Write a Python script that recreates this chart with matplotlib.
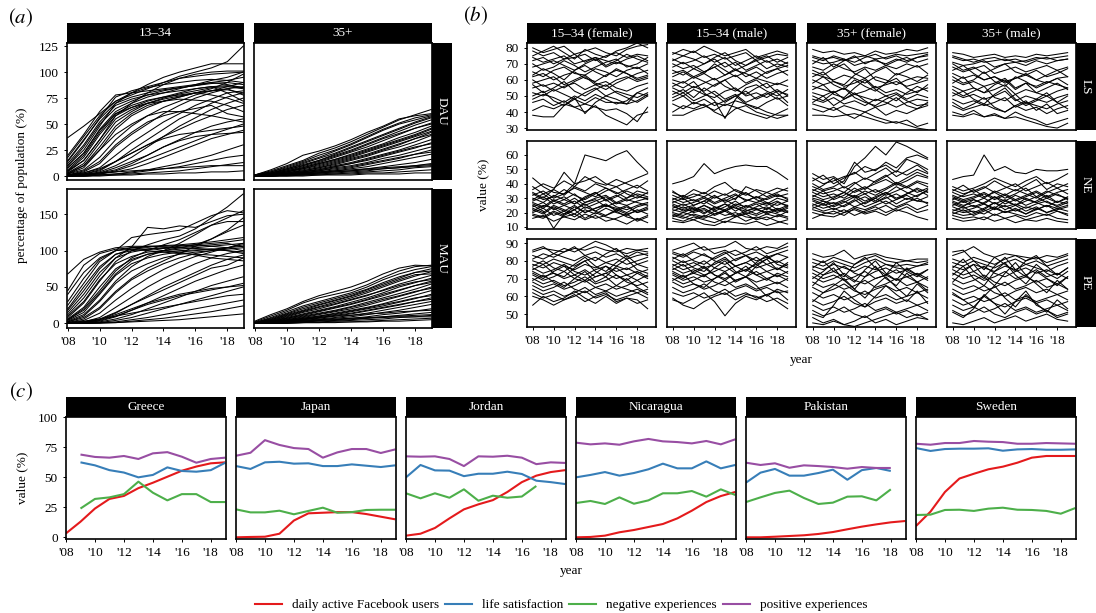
import matplotlib
matplotlib.use("Agg")
import matplotlib.pyplot as plt
import numpy as np
from matplotlib.patches import Rectangle
from matplotlib.lines import Line2D

plt.rcParams['font.family'] = ['Liberation Serif', 'DejaVu Serif']
plt.rcParams['mathtext.fontset'] = 'stix'

years = np.arange(2008, 2020)
tick_years = np.arange(2008, 2019, 2)
tick_labels = ["'%02d" % (y % 100) for y in tick_years]

# ---- (a) Facebook users as percentage of population, one line per country ----
dau_1334 = [
    "37 48 60 72 80 85 88 90 92 93 92 90", "20 40 62 78 80 82 84 86 88 90 88 85",
    "15 35 55 70 76 80 83 85 87 90 92 95", "10 28 50 65 72 78 82 85 87 89 90 88",
    "8 22 45 62 70 76 80 84 88 92 95 100", "5 18 40 58 66 72 76 80 84 86 87 85",
    "3 12 32 52 62 70 75 79 82 85 86 84", "2 8 25 45 58 66 72 76 80 82 83 80",
    "12 30 52 68 74 78 80 82 84 86 80 72", "6 20 42 60 68 73 76 78 80 78 75 70",
    "4 15 35 55 64 70 74 77 80 82 84 78", "2 6 18 35 48 58 66 72 78 82 86 90",
    "1 4 12 28 40 50 60 68 75 80 84 86", "1 3 8 20 32 42 52 60 68 74 80 82",
    "0 2 5 14 25 35 45 55 62 70 76 80", "0 1 4 10 18 28 38 48 56 64 70 75",
    "1 3 7 14 22 30 38 45 52 58 64 68", "0 1 3 8 14 20 28 35 42 48 52 55",
    "0 1 2 5 10 16 22 28 34 40 45 50", "0 1 2 4 7 12 18 24 30 36 40 44",
    "0 0 1 2 4 6 9 12 16 20 25 30", "0 0 1 2 3 5 7 9 12 15 18 20",
    "0 0 1 1 2 3 4 5 7 9 11 13", "0 0 0 1 1 2 2 3 3 4 4 5",
    "1 2 3 4 5 6 7 8 9 10 10 10", "18 38 58 72 78 84 90 96 100 104 110 125",
    "10 25 48 70 80 88 95 100 104 108 108 108", "5 15 35 58 70 80 88 94 98 100 101 101",
    "2 10 28 48 60 68 72 76 80 84 90 98", "8 22 44 60 66 70 72 74 73 72 68 62",
    "3 10 25 40 50 58 62 62 60 58 55 52", "0 2 6 14 22 30 36 40 42 44 46 48",
    "1 5 14 30 42 52 58 62 65 68 60 57", "14 34 56 76 82 86 90 94 96 98 99 100",
    "0 1 3 6 12 20 28 34 38 40 41 42",
]
dau_35 = [
    "1 5 10 15 22 27 33 40 47 54 59 64", "1 4 9 14 20 25 31 38 45 51 56 59",
    "0 3 7 12 17 22 28 34 40 46 52 57", "1 3 7 11 15 20 25 31 37 43 49 54",
    "0 2 5 9 13 18 23 28 34 40 46 51", "0 2 5 8 12 16 21 26 31 37 42 48",
    "0 2 4 7 11 15 19 24 29 34 39 45", "0 1 3 6 9 13 17 21 26 31 36 42",
    "0 1 3 5 8 11 15 19 24 28 33 39", "0 1 2 4 7 10 13 17 21 25 30 35",
    "0 1 2 4 6 9 12 15 19 23 27 32", "0 1 2 3 5 8 10 13 17 20 24 28",
    "0 1 2 3 4 6 8 11 14 17 21 25", "0 0 1 2 3 5 7 9 12 15 18 21",
    "0 0 1 2 3 4 5 7 9 11 13 16", "0 0 1 1 2 3 4 5 7 8 10 12",
    "0 0 1 1 2 2 3 4 5 6 8 9", "0 0 0 1 1 2 2 3 3 4 5 6",
    "0 0 0 0 1 1 1 2 2 2 3 3", "1 4 8 13 18 24 30 37 44 50 54 58",
    "1 3 6 10 14 19 24 30 36 41 46 50", "0 2 4 7 10 14 18 23 28 33 38 43",
    "0 1 3 5 8 12 16 20 25 30 36 40", "0 1 2 4 6 9 12 16 20 24 28 31",
    "0 1 2 3 5 7 9 12 15 18 21 23", "0 1 1 2 3 4 5 6 7 8 9 10",
    "0 1 2 3 4 5 6 7 8 9 10 11", "1 6 12 20 24 29 35 42 48 55 58 60",
    "0 2 6 10 15 21 27 33 39 45 51 56", "0 1 4 8 12 16 20 25 30 35 40 46",
]
mau_1334 = [
    "68 88 98 104 106 106 105 104 103 102 100 98", "45 80 96 102 104 105 106 107 108 106 104 100",
    "30 62 88 100 104 106 107 108 110 112 115 118", "20 50 78 95 100 102 103 104 106 108 110 105",
    "15 40 70 90 98 102 104 106 108 110 112 115", "10 30 60 82 92 98 100 102 104 106 108 110",
    "6 22 50 75 88 95 98 100 101 102 100 96", "4 15 40 66 82 90 95 98 100 102 104 106",
    "2 10 30 55 72 82 90 95 98 100 102 104", "1 6 20 42 60 72 82 90 96 100 104 108",
    "1 4 14 32 48 62 74 84 92 98 104 110", "0 2 8 22 36 50 62 72 82 90 96 100",
    "0 1 5 14 26 38 50 60 70 80 88 94", "0 1 3 9 18 28 38 48 58 66 74 80",
    "0 1 2 6 12 20 28 36 44 52 58 64", "0 0 1 4 8 14 20 26 32 38 44 50",
    "0 0 1 2 5 8 12 16 20 24 28 32", "0 0 1 1 3 5 7 10 13 16 20 24",
    "0 0 0 1 2 3 4 5 7 9 11 13", "12 35 65 90 105 132 130 134 132 140 148 150",
    "25 55 85 100 118 122 125 128 138 148 155 152", "8 28 58 85 100 108 115 120 130 145 160 178",
    "5 20 45 72 90 100 108 115 125 135 145 155", "3 12 32 58 78 92 100 110 122 135 140 140",
    "2 8 22 44 62 76 86 96 106 116 126 135", "0 2 6 15 26 36 46 56 66 76 80 90",
    "0 1 4 10 18 26 32 38 42 46 50 55", "1 3 6 10 14 18 22 26 30 34 38 40",
    "40 70 90 100 102 100 98 96 95 94 92 90", "18 45 75 95 102 104 100 98 94 90 88 86",
    "5 18 42 68 86 95 100 104 108 116 128 145", "0 2 5 12 20 28 34 40 44 48 50 52",
]
mau_35 = [
    "2 10 18 28 35 40 45 53 63 72 78 80", "1 8 16 24 30 36 42 50 60 68 74 78",
    "1 6 13 20 26 32 38 46 54 62 70 75", "1 5 11 17 23 29 35 42 50 58 65 71",
    "0 4 9 15 20 26 32 38 46 54 60 66", "0 3 8 13 18 23 29 35 42 50 56 62",
    "0 3 7 11 16 21 26 32 38 45 52 58", "0 2 6 10 14 18 23 29 35 41 47 54",
    "0 2 5 8 12 16 20 25 31 37 43 50", "0 2 4 7 10 14 18 22 27 33 39 45",
    "0 1 3 6 9 12 16 20 24 29 34 40", "0 1 3 5 7 10 13 17 21 25 30 35",
    "0 1 2 4 6 8 11 14 18 22 26 30", "0 1 2 3 5 7 9 12 15 18 22 26",
    "0 1 1 2 4 5 7 9 12 14 17 20", "0 0 1 2 3 4 5 7 9 11 13 15",
    "0 0 1 1 2 3 4 5 6 8 9 11", "0 0 0 1 1 2 2 3 4 5 6 7",
    "0 0 0 1 1 1 2 2 3 3 4 5", "3 12 20 30 38 44 50 58 68 76 80 79",
    "1 7 14 22 28 34 40 47 56 64 70 72", "1 5 12 18 25 31 37 44 52 60 67 68",
    "0 4 10 16 22 27 33 39 45 52 57 60", "0 3 7 12 17 22 27 33 40 46 52 56",
    "0 2 5 9 13 17 22 27 33 38 44 48", "0 1 4 7 10 13 17 21 26 30 35 38",
    "0 1 3 5 8 11 14 18 22 26 30 33", "1 2 4 6 8 10 11 13 14 16 17 18",
    "1 2 3 4 5 6 7 8 9 10 11 12", "0 1 2 3 4 5 6 7 8 9 9 9",
]

# ---- (b) well-being measures by age/sex group, one line per country ----
ls_f1534 = [
    "78 75 77 73 74 76 72 75 77 74 76 75", "72 74 70 73 76 71 74 72 70 73 75 72",
    "68 70 72 69 66 70 73 68 71 69 67 70", "65 62 66 68 64 63 67 65 62 66 68 64",
    "62 64 60 63 65 61 59 63 66 64 61 63", "58 60 62 57 60 63 58 56 60 62 59 61",
    "55 57 53 56 58 54 57 59 55 53 56 58", "52 50 54 51 48 52 55 50 53 51 49 52",
    "48 51 49 46 50 47 51 48 45 47 52 50", "75 78 81 77 73 79 76 74 78 80 83 80",
    "70 66 68 72 69 65 68 71 73 68 70 74", "60 56 58 55 59 62 57 54 58 61 64 66",
    "50 53 47 44 49 39 46 50 48 45 52 55", "41 44 42 45 43 40 44 38 35 32 38 40",
    "38 37 37 44 48 45 43 41 42 39 34 43", "80 77 79 81 76 78 80 77 75 79 81 82",
    "63 67 64 60 66 69 65 62 67 64 60 62", "57 52 55 59 53 50 54 57 52 49 46 50",
    "46 48 44 47 43 45 49 46 46 45 47 51", "74 71 73 75 70 72 74 69 72 76 73 71",
]
ls_m1534 = [
    "77 75 78 74 76 73 75 77 72 74 76 75", "73 70 72 75 71 74 69 72 75 71 73 70",
    "68 71 67 70 73 68 71 66 69 72 68 71", "64 66 62 65 68 63 66 64 61 65 67 63",
    "60 58 62 59 56 60 63 58 61 59 57 60", "56 59 55 58 61 56 53 57 60 55 58 56",
    "53 50 54 51 49 53 55 50 52 49 53 51", "49 52 47 50 53 48 51 46 49 52 48 50",
    "45 42 46 44 41 45 43 40 38 36 39 42", "40 44 42 45 40 37 42 44 40 38 36 38",
    "38 38 41 43 46 44 47 45 43 40 38 38", "76 79 77 81 78 75 77 79 74 76 78 76",
    "70 67 69 65 68 71 66 69 72 67 70 68", "62 65 61 64 60 63 67 62 65 61 64 66",
    "58 55 59 52 47 36 48 55 57 53 50 54", "55 52 56 53 57 60 54 51 55 58 52 46",
    "47 50 45 48 44 47 50 45 42 46 49 44", "66 63 67 64 70 66 62 65 68 64 67 69",
    "72 75 73 70 74 77 72 69 73 75 71 74", "51 54 49 55 51 46 50 53 48 51 54 50",
]
ls_f35 = [
    "79 77 78 76 77 75 78 76 77 79 78 80", "75 73 74 72 74 75 73 74 76 75 76 77",
    "72 70 71 73 69 71 72 70 73 71 74 75", "68 66 70 67 65 68 66 69 67 70 68 70",
    "64 62 60 63 61 58 62 60 57 60 62 61", "60 57 59 56 58 61 55 57 59 56 58 60",
    "56 54 52 55 51 53 56 52 54 51 53 55", "52 50 53 48 51 49 47 50 52 48 51 49",
    "48 46 49 45 47 44 48 46 43 46 48 47", "45 43 41 44 42 40 43 38 41 39 42 44",
    "42 40 43 39 36 40 37 35 33 35 31 33", "38 38 37 38 39 37 35 33 34 32 30 29",
    "70 74 68 72 75 70 73 69 72 74 71 73", "66 63 67 70 64 61 65 68 63 66 69 64",
    "58 62 57 54 60 56 53 58 61 55 52 57", "54 57 51 49 55 60 54 50 47 52 56 53",
    "50 47 52 55 49 46 44 48 51 47 44 45", "62 65 59 57 63 67 60 58 64 62 59 63",
    "46 50 44 48 52 47 43 45 49 44 42 46", "74 72 75 73 71 74 76 73 75 72 74 76",
]
ls_m35 = [
    "77 76 74 75 76 74 75 74 76 75 76 77", "74 72 73 71 72 73 71 72 74 73 74 75",
    "71 69 70 72 68 70 71 69 72 70 72 73", "68 65 67 69 64 66 68 65 67 69 66 68",
    "64 61 63 60 62 59 61 63 60 58 61 62", "60 57 59 56 58 61 55 58 56 59 57 55",
    "56 53 55 52 54 57 51 54 52 50 53 55", "52 49 51 48 50 53 47 50 48 46 49 51",
    "48 45 47 44 46 49 43 46 44 42 45 47", "44 41 43 45 42 40 44 41 43 39 42 44",
    "40 38 41 37 39 36 40 37 35 32 34 36", "38 37 39 37 38 36 37 35 33 31 30 33",
    "70 66 68 64 67 70 65 63 66 62 64 67", "58 62 55 52 57 60 54 58 52 55 58 54",
    "54 50 53 56 49 47 51 45 48 52 46 50", "62 58 60 65 59 56 62 59 55 58 61 57",
    "50 53 48 45 51 55 48 44 47 50 46 42", "46 42 45 49 43 40 44 47 41 45 39 41",
    "66 69 64 60 62 58 61 64 60 63 66 62", "75 73 71 73 74 72 73 71 73 74 72 73",
]
ne_f1534 = [
    "44 38 34 33 40 60 58 56 60 63 55 48", "38 33 36 48 40 42 45 40 38 41 44 47",
    "34 30 36 32 38 35 40 37 33 36 39 35", "32 35 30 33 37 34 31 35 38 33 30 34",
    "30 27 32 29 26 31 34 28 31 35 32 29", "28 31 26 29 33 27 30 32 27 30 33 31",
    "26 23 28 25 22 27 29 24 27 25 28 30", "24 27 22 25 28 23 26 29 24 22 25 27",
    "22 19 24 21 25 20 23 26 21 24 20 23", "20 23 18 21 17 22 19 23 20 18 22 19",
    "18 16 20 17 15 19 16 18 21 17 15 18", "16 18 14 17 19 15 18 14 16 19 14 17",
    "36 40 37 42 38 45 41 39 43 40 37 42", "25 21 9 19 24 20 23 25 22 19 21 24",
    "29 33 28 31 26 30 34 29 32 28 31 30", "21 25 23 19 22 26 21 18 22 25 20 22",
    "27 24 29 26 30 25 28 31 26 29 27 25", "19 17 21 18 22 16 20 17 15 12 16 13",
    "33 29 31 36 32 29 33 37 34 30 35 33", "23 20 25 22 19 24 21 25 23 20 24 26",
]
ne_m1534 = [
    "40 42 45 54 47 50 52 53 52 52 48 43", "35 30 33 31 35 32 36 33 30 34 31 33",
    "32 29 31 34 30 33 29 38 35 31 34 37", "30 27 29 26 31 28 32 29 27 30 33 29",
    "28 25 27 30 26 29 25 28 31 27 25 28", "26 23 25 28 24 22 26 24 27 25 28 24",
    "24 22 21 25 22 26 23 21 24 27 22 25", "22 20 23 19 24 21 25 22 19 23 21 24",
    "20 18 21 23 19 22 18 21 23 19 22 20", "18 16 19 17 21 18 20 17 16 19 17 21",
    "16 14 17 15 13 16 18 14 17 15 18 16", "14 13 15 12 11 14 13 12 14 11 13 15",
    "34 31 36 33 38 41 35 32 36 34 37 35", "29 32 28 31 27 30 33 28 31 29 32 30",
    "25 21 24 20 23 26 21 25 22 24 20 23", "21 24 20 22 18 21 24 19 22 20 23 21",
    "27 30 25 28 32 27 30 34 29 26 30 28", "19 17 15 18 16 13 17 19 15 17 14 12",
    "23 26 22 25 21 24 28 23 26 22 27 25", "17 20 18 16 19 21 17 20 18 21 19 17",
]
ne_f35 = [
    "47 43 45 40 52 58 66 60 69 66 62 58", "40 36 38 42 55 48 50 53 48 57 54 50",
    "38 35 37 34 40 44 41 45 49 46 50 47", "36 33 35 38 34 37 40 43 39 42 46 44",
    "34 31 33 30 35 38 34 37 41 38 42 40", "32 29 31 34 30 33 36 32 35 38 34 37",
    "30 28 26 29 32 28 31 34 30 33 36 32", "28 25 27 24 28 31 27 30 33 29 32 35",
    "26 23 25 28 24 27 30 26 29 32 28 31", "24 21 23 20 24 22 25 28 24 27 30 26",
    "22 20 19 22 18 21 24 20 23 26 22 25", "20 18 17 20 22 19 21 18 22 20 17 15",
    "42 46 40 44 48 43 47 51 45 49 53 48", "35 39 44 37 41 36 42 46 40 44 48 45",
    "29 26 30 34 31 35 32 36 40 37 41 38", "25 28 24 27 31 26 30 34 29 33 37 34",
    "31 35 29 32 37 33 28 33 38 34 31 36", "23 26 22 25 29 24 27 31 26 30 28 27",
    "16 19 21 18 23 20 22 25 21 24 20 22", "44 40 42 45 47 52 49 55 51 58 60 57",
]
ne_m35 = [
    "43 45 46 60 49 52 48 47 50 49 49 50", "38 35 37 40 44 41 38 42 45 40 43 47",
    "36 33 35 38 34 37 40 35 38 41 37 40", "34 31 33 30 35 32 36 33 30 34 37 33",
    "32 29 31 34 30 33 29 32 35 31 34 36", "30 27 29 26 31 28 32 29 27 30 33 29",
    "28 25 27 30 26 29 25 28 31 27 25 28", "26 23 25 22 27 24 26 23 26 28 24 27",
    "24 21 23 26 22 25 21 24 22 25 23 21", "22 20 21 19 23 20 22 19 23 20 22 24",
    "20 18 19 22 18 21 19 17 20 18 21 19", "18 16 17 15 19 16 18 15 17 19 16 15",
    "16 14 15 17 14 16 13 15 14 16 14 13", "35 39 34 37 42 38 35 39 43 36 40 38",
    "29 32 36 31 34 30 33 37 31 35 32 30", "25 28 24 27 31 26 29 25 28 32 27 30",
    "21 24 20 23 27 22 25 21 24 20 23 25", "27 24 29 26 23 28 25 30 27 24 28 26",
    "19 22 18 21 24 20 23 19 22 25 21 18", "31 28 30 33 29 32 28 31 34 30 27 31",
]
pe_f1534 = [
    "85 87 86 85 87 86 88 86 85 87 86 85", "83 81 84 82 80 83 85 82 84 81 83 84",
    "80 78 81 79 77 80 82 79 81 78 80 82", "78 76 79 77 75 78 76 79 77 75 78 80",
    "76 73 75 78 74 72 75 77 74 76 73 75", "74 71 73 70 72 75 71 73 76 72 74 71",
    "72 69 71 74 70 68 71 73 70 72 69 72", "70 67 69 66 68 71 67 69 72 68 66 68",
    "68 65 67 64 66 69 65 67 64 66 69 65", "66 63 65 68 64 62 65 63 66 64 62 64",
    "64 61 63 60 62 65 61 63 60 62 64 61", "62 59 61 58 60 63 59 61 58 60 62 59",
    "60 58 55 58 61 57 60 62 57 59 56 58", "55 60 57 59 63 59 56 60 56 59 58 53",
    "86 88 84 87 85 88 91 89 86 84 86 87", "81 84 82 85 88 83 80 84 87 82 85 83",
    "77 80 76 74 78 82 77 74 79 83 78 76", "73 70 74 77 72 69 73 77 72 69 73 70",
    "69 72 68 65 70 74 68 71 66 70 65 62", "75 78 73 71 76 80 74 71 77 81 75 73",
]
pe_m1534 = [
    "86 88 90 86 87 88 91 87 86 88 87 90", "84 82 85 83 81 84 86 83 85 82 84 86",
    "82 79 81 84 80 78 81 83 80 82 79 82", "80 77 79 76 78 81 77 79 82 78 80 77",
    "78 75 77 80 76 74 77 79 76 78 75 78", "76 73 75 72 74 77 73 75 78 74 76 73",
    "74 71 73 76 72 70 73 75 72 74 71 74", "72 69 71 68 70 73 69 71 74 70 72 69",
    "70 67 69 72 68 66 69 71 68 70 67 70", "68 65 67 64 66 69 65 67 64 66 68 65",
    "65 62 64 67 63 61 64 66 63 65 62 63", "62 60 62 59 61 64 60 62 59 61 63 58",
    "58 56 59 62 57 49 56 60 58 61 57 53", "59 55 53 57 60 62 58 61 60 57 59 56",
    "85 83 86 88 84 86 83 85 88 84 86 88", "81 84 80 78 82 85 80 83 78 81 84 82",
    "77 80 76 74 79 82 77 74 79 83 78 76", "73 70 74 77 72 69 73 77 72 69 73 71",
    "69 72 67 65 70 74 68 71 66 60 64 62", "75 78 73 71 76 80 74 71 77 81 75 79",
]
pe_f35 = [
    "84 82 83 86 81 83 84 82 81 80 81 81", "81 79 82 80 78 81 83 80 79 80 79 80",
    "79 77 80 78 76 79 81 78 77 78 77 79", "77 75 78 76 74 77 75 78 76 75 77 78",
    "75 72 74 77 73 71 74 76 73 75 72 75", "73 70 72 69 71 74 70 72 75 71 73 70",
    "71 68 70 73 69 67 70 72 69 71 68 71", "68 65 67 64 66 69 65 67 70 66 68 65",
    "65 62 64 67 63 61 64 66 63 65 62 64", "62 59 61 58 60 63 59 61 58 60 62 59",
    "58 55 57 60 56 54 57 59 56 58 55 57", "55 52 54 51 53 56 52 54 51 53 55 52",
    "52 49 51 54 50 48 51 53 50 52 49 51", "48 45 47 44 46 49 45 47 44 46 48 47",
    "45 44 46 44 43 45 47 49 51 48 50 47", "50 48 55 63 58 54 60 66 61 57 63 56",
    "57 62 66 70 64 59 66 71 65 60 67 62", "66 72 76 69 64 71 77 70 66 73 68 63",
    "76 80 74 71 78 82 76 72 79 74 71 75", "70 74 79 72 68 75 80 73 69 76 72 69",
]
pe_m35 = [
    "83 85 88 84 82 84 83 82 81 83 82 84", "81 79 82 80 78 81 83 80 82 79 81 83",
    "79 77 80 78 76 79 81 78 80 77 79 81", "77 75 78 76 74 77 75 78 76 74 77 79",
    "75 72 74 77 73 71 74 76 73 75 72 76", "73 70 72 69 71 74 70 72 75 71 73 70",
    "70 67 69 72 68 66 69 71 68 70 67 71", "67 64 66 63 65 68 64 66 69 65 67 64",
    "64 61 63 66 62 60 63 65 62 64 61 63", "61 58 60 57 59 62 58 60 57 59 61 58",
    "58 55 57 60 56 54 57 59 56 58 55 57", "55 52 54 51 53 56 52 54 51 53 55 52",
    "52 49 51 54 50 48 51 53 50 52 49 51", "45 44 46 48 45 47 49 46 48 50 47 46",
    "51 48 53 61 56 50 57 63 55 52 48 50", "62 58 54 60 66 59 54 61 56 51 58 53",
    "85 86 80 75 82 78 74 80 83 77 72 76", "68 74 78 71 66 73 79 72 67 62 69 64",
    "76 81 74 70 77 82 75 71 78 73 70 74", "72 77 70 66 74 79 72 67 74 70 66 71",
]

# ---- (c) six example countries ----
countries = ['Greece', 'Japan', 'Jordan', 'Nicaragua', 'Pakistan', 'Sweden']
n = np.nan
fb_users = [
    [3.3, 13, 24, 32, 34.5, 41, 45.5, 50.5, 55.5, 59, 61.7, 62.5],
    [0, 0.3, 0.5, 3, 14, 20, 20.5, 21, 21, 19.4, 17.2, 15],
    [1.4, 3, 7.8, 15.8, 23.3, 27.5, 31, 37.8, 46, 51.4, 54.4, 56],
    [0, 0.3, 1.4, 4.2, 6.1, 8.6, 11.1, 15.8, 22.2, 29.4, 34.4, 37.8],
    [0, 0, 0.5, 1.1, 1.7, 2.8, 4.4, 6.7, 8.9, 10.8, 12.5, 13.6],
    [9.4, 21.4, 37.8, 49, 53, 56.7, 58.9, 62.2, 66.4, 67.8, 67.8, 67.8],
]
life_sat = [
    [n, 62.5, 60, 56, 54, 50, 52, 58.3, 55.3, 54.7, 56, 62.2],
    [59.4, 57, 62.5, 63, 61.4, 61.7, 59.4, 59.4, 60.8, 59.7, 58.6, 60],
    [50, 60.3, 55.8, 55.6, 51, 53, 53, 54.7, 52.8, 47.2, 46, 44.4],
    [50, 52, 54.4, 51.4, 53.6, 56.7, 61.4, 57.5, 57.5, 63.3, 57.5, 60.3],
    [45.6, 53.9, 57, 51.4, 51.4, 53.6, 56.4, 48, 56, 57.8, 55.3, n],
    [74.4, 72, 73.6, 73.9, 73.9, 74.2, 72.2, 73.3, 73.6, 73, 73, 73.3],
]
neg_exp = [
    [n, 24, 32, 33.3, 36, 46.4, 37.2, 30.8, 36, 36, 29.4, 29.4],
    [23.3, 20.8, 20.8, 22.2, 19.2, 22, 24.7, 20.5, 21, 22.8, 23, 23],
    [36.7, 32.5, 36.7, 33, 40, 30.5, 34.7, 33, 34, 42.8, n, n],
    [28.6, 30.3, 27.8, 33.3, 28, 30.8, 36.7, 36.7, 38.6, 33.9, 40, 35.3],
    [29.4, 33.3, 37, 38.9, 32.8, 27.8, 28.9, 33.9, 34.2, 30.8, 40, n],
    [18.6, 18.9, 22.8, 23, 22, 23.9, 24.7, 23, 22.8, 22, 19.7, 24.4],
]
pos_exp = [
    [n, 69, 67, 66.4, 67.8, 65.3, 70, 71, 67.2, 62.2, 65.3, 66.4],
    [68, 70.5, 81, 77, 74.4, 73.6, 66.4, 70.8, 73.6, 73.6, 70.3, 73.3],
    [67.5, 67.2, 67.5, 65.3, 59.4, 67.5, 67.2, 68, 66.4, 61, 62.5, 62],
    [78.9, 77.5, 78.3, 77.2, 80, 82, 80, 79.4, 78.3, 80.3, 77.5, 81.7],
    [62.2, 60.3, 61.7, 58, 60, 59.4, 58.6, 57.2, 58.6, 57.8, 57.8, n],
    [78, 77.2, 78.6, 78.6, 80.3, 79.7, 79.4, 78, 78, 78.6, 78.3, 78],
]
series_names = ['daily active Facebook users', 'life satisfaction',
                'negative experiences', 'positive experiences']
series_colors = ['#E41A1C', '#377EB8', '#4DAF4A', '#984EA3']

W, H = 1096, 613
fig = plt.figure(figsize=(W / 100, H / 100), dpi=100)
FS = 9.5


def box(l, t, r, b):
    return [l / W, 1 - b / H, (r - l) / W, (b - t) / H]


def strip(l, t, r, b, text, rot=0):
    fig.add_artist(Rectangle((l / W, 1 - b / H), (r - l) / W, (b - t) / H,
                             transform=fig.transFigure, facecolor='black',
                             edgecolor='none'))
    fig.text((l + r) / 2 / W, 1 - (t + b) / 2 / H, text, color='white',
             ha='center', va='center', rotation=rot, fontsize=FS)


def panel(rect, xlim, ylim, yticks, show_y, show_x):
    ax = fig.add_axes(box(*rect))
    ax.set_xlim(*xlim)
    ax.set_ylim(*ylim)
    for s in ax.spines.values():
        s.set_linewidth(1.2)
    ax.tick_params(length=2.5, width=0.7, labelsize=FS, pad=3.5)
    ax.set_xticks(tick_years)
    ax.set_xticklabels(tick_labels if show_x else [])
    if not show_x:
        ax.tick_params(axis='x', length=0)
    ax.set_yticks(yticks)
    if not show_y:
        ax.set_yticklabels([])
        ax.tick_params(axis='y', length=0)
    return ax


def spaghetti(ax, rows):
    for r in rows:
        ax.plot(years, np.array(r.split(), float), color='black', lw=0.75)


# ---------------- (a) ----------------
a_cols = [(67, 244), (254, 432)]
a_rows = [(43, 180), (189, 328)]
a_data = [[dau_1334, dau_35], [mau_1334, mau_35]]
a_ylims = [(-3.8, 128), (-6.4, 184.8)]
a_yticks = [[0, 25, 50, 75, 100, 125], [0, 50, 100, 150]]
for i, (t, b) in enumerate(a_rows):
    for j, (l, r) in enumerate(a_cols):
        ax = panel((l, t, r, b), (2007.95, 2019.05), a_ylims[i], a_yticks[i],
                   j == 0, i == 1)
        spaghetti(ax, a_data[i][j])
    strip(432, t, 452, b, ['DAU', 'MAU'][i], rot=-90)
for j, (l, r) in enumerate(a_cols):
    strip(l, 23, r, 43, ['13–34', '35+'][j])
fig.text(22 / W, 1 - 185 / H, 'percentage of population (%)', rotation=90,
         ha='center', va='center', fontsize=FS)

# ---------------- (b) ----------------
b_cols = [(527, 656), (667, 796), (807, 936), (947, 1076)]
b_rows = [(43, 130), (141, 229), (239, 327)]
b_data = [[ls_f1534, ls_m1534, ls_f35, ls_m35],
          [ne_f1534, ne_m1534, ne_f35, ne_m35],
          [pe_f1534, pe_m1534, pe_f35, pe_m35]]
b_ylims = [(28.8, 83), (8.6, 69.7), (42.7, 92.3)]
b_yticks = [np.arange(30, 81, 10), np.arange(10, 61, 10), np.arange(50, 91, 10)]
for i, (t, b) in enumerate(b_rows):
    for j, (l, r) in enumerate(b_cols):
        ax = panel((l, t, r, b), (2007.45, 2019.8), b_ylims[i], b_yticks[i],
                   j == 0, i == 2)
        spaghetti(ax, b_data[i][j])
    strip(1076, t, 1096, b, ['LS', 'NE', 'PE'][i], rot=-90)
for j, (l, r) in enumerate(b_cols):
    strip(l, 23, r, 43, ['15–34 (female)', '15–34 (male)',
                         '35+ (female)', '35+ (male)'][j])
fig.text(483 / W, 1 - 185 / H, 'value (%)', rotation=90, ha='center',
         va='center', fontsize=FS)
fig.text(801 / W, 1 - 360 / H, 'year', ha='center', va='center', fontsize=FS)

# ---------------- (c) ----------------
c_lefts = [66, 236, 406, 576, 746, 916]
c_series = [fb_users, life_sat, neg_exp, pos_exp]
for k, l in enumerate(c_lefts):
    ax = panel((l, 417, l + 160, 539), (2008, 2019.05), (-1.4, 100.3),
               [0, 25, 50, 75, 100], k == 0, True)
    for s, c in zip(c_series, series_colors):
        ax.plot(years, s[k], color=c, lw=1.5, solid_capstyle='butt')
    strip(l, 397, l + 160, 417, countries[k])
fig.text(22 / W, 1 - 478 / H, 'value (%)', rotation=90, ha='center',
         va='center', fontsize=FS)
fig.text(571 / W, 1 - 571 / H, 'year', ha='center', va='center', fontsize=FS)

handles = [Line2D([], [], color=c, lw=1.5) for c in series_colors]
fig.legend(handles, series_names, loc='center', ncol=4, frameon=False,
           bbox_to_anchor=(561 / W, 1 - 605 / H), fontsize=FS,
           handlelength=2.05, handletextpad=0.75, columnspacing=0.45)

# panel letters
fig.text(21 / W, 1 - 18 / H, r'$(a)$', ha='center', va='center', fontsize=15)
fig.text(476 / W, 1 - 16 / H, r'$(b)$', ha='center', va='center', fontsize=15)
fig.text(21 / W, 1 - 392 / H, r'$(c)$', ha='center', va='center', fontsize=15)

fig.savefig('out.png', dpi=100)
